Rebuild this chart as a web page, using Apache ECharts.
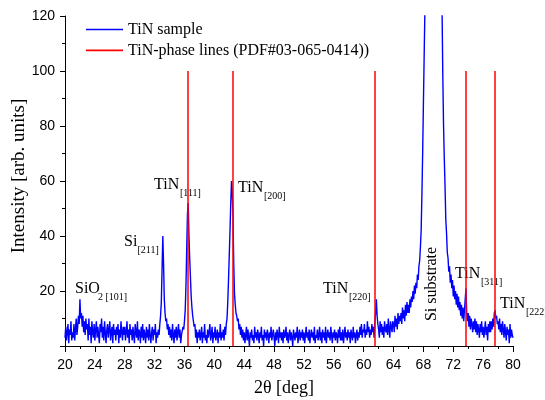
<!DOCTYPE html>
<html>
<head>
<meta charset="utf-8">
<script src="https://cdn.jsdelivr.net/npm/echarts@6.0.0/dist/echarts.min.js"></script>
<style>
html,body{margin:0;padding:0;background:#fff;}
#chart{width:545px;height:400px;}
</style>
</head>
<body>
<div id="chart"></div>
<script>
// Measurement grid of the diffractogram (2θ in degrees)
const angleStart = 20;
const angleStep = 0.1;

// Intensity readings, 0.1° apart (arb. units)
const intensity20to30 = [
  3,7,2,5,8,1,6,4,9,2,
  5,3,8,2,6,10,4,7,11,8,
  17,10,12,7,11,5,9,4,10,6,
  8,2,10,4,7,1,9,5,3,8,
  2,6,9,3,7,4,1,8,5,10,
  3,7,2,9,5,1,6,8,3,6,
  9,2,5,7,1,8,4,6,2,7,
  4,8,1,6,3,9,5,2,7,4,
  7,2,5,9,3,6,1,8,4,6,
  2,7,4,1,8,5,3,9,2,6
];
const intensity30to40 = [
  5,1,7,3,8,2,6,4,1,7,
  3,6,2,8,4,1,5,7,2,6,
  4,8,1,5,3,6,4,8,11,16,
  28,40,30,17,12,9,10,6,8,4,
  7,3,6,2,8,4,1,6,3,7,
  2,5,8,3,6,1,4,4,7,6,
  9,13,22,35,48,52,40,32,25,18,
  14,11,9,7,8,3,6,1,5,3,
  6,2,4,7,1,5,3,8,2,4,
  1,6,3,5,8,2,4,7,1,5
];
const intensity40to50 = [
  3,7,2,4,6,1,5,3,8,2,
  5,3,6,2,7,4,8,10,16,24,
  33,42,52,60,56,47,30,19,15,12,
  11,9,10,6,8,4,7,3,6,2,
  5,1,4,7,2,6,3,0,5,3,
  6,2,4,1,7,3,5,2,6,4,
  1,5,3,7,2,4,0,6,3,5,
  2,6,4,1,5,3,7,2,4,6,
  3,0,5,2,6,4,1,7,3,5,
  2,5,1,6,3,4,7,2,5,1
];
const intensity50to60 = [
  4,6,2,5,3,0,6,4,2,5,
  3,7,1,4,6,2,5,3,6,2,
  5,1,4,7,3,5,2,6,1,4,
  6,3,5,2,7,1,4,3,6,2,
  4,7,2,5,1,6,3,5,2,7,
  1,4,6,3,5,2,7,4,1,5,
  3,6,2,5,4,1,6,3,7,2,
  5,2,6,1,4,7,3,5,2,6,
  3,5,1,6,4,2,7,3,5,1,
  4,6,2,5,3,7,4,8,3,6
];
const intensity60to70 = [
  5,8,3,6,4,9,5,7,3,6,
  4,8,5,7,3,9,12,17,11,8,
  6,3,9,5,8,4,7,3,9,6,
  5,8,4,10,6,3,9,7,5,9,
  8,5,11,7,10,6,12,8,11,9,
  12,8,14,10,13,9,15,11,16,12,
  15,12,17,14,18,16,20,17,22,19,
  23,21,26,24,29,31,36,42,55,70,
  88,105,122,150,190,240,300,380,450,520,
  580,600,560,480,400,330,270,220,190,170
];
const intensity70to80 = [
  160,150,140,132,126,122,98,80,68,58,
  46,41,34,32,27,29,23,26,21,24,
  18,22,17,20,15,19,14,18,13,16,
  11,15,10,14,9,13,17,21,12,9,
  12,7,11,6,10,8,5,9,6,10,
  5,9,4,8,6,3,8,5,9,4,
  7,3,6,9,4,7,2,8,5,9,
  5,9,6,10,7,12,13,10,11,8,
  9,6,10,5,8,4,9,6,3,8,
  5,2,7,4,6,1,8,3,6,4,
  3
];

// TiN reference phase lines (PDF#03-065-0414)
const phaseAngles = [36.5, 42.4, 61.5, 73.7, 77.55];
const phaseHeight = 100;

// Axis ticks
const xTicks = {min: 20, max: 80, interval: 4};
const yTicks = {min: 0, max: 120, interval: 20};

const seriesNames = ['TiN sample', 'TiN-phase lines (PDF#03-065-0414))'];

const intensities = [].concat(intensity20to30, intensity30to40, intensity40to50,
  intensity50to60, intensity60to70, intensity70to80);
const spectrum = intensities.map((v, i) => [+(angleStart + i * angleStep).toFixed(2), v]);

const serif = '"Liberation Serif", "Times New Roman", serif';
const sans = '"Liberation Sans", Arial, sans-serif';

function label(x, y, text, size) {
  return {type: 'text', x: x, y: y, silent: true,
    style: {text: text, x: 0, y: 0, font: size + 'px ' + serif, fill: '#000',
      textAlign: 'left', textVerticalAlign: 'middle'}};
}

const chart = echarts.init(document.getElementById('chart'), null, {renderer: 'canvas'});
const axisCommon = {
  type: 'value',
  nameLocation: 'middle',
  nameMoveOverlap: false,
  axisLine: {show: true, onZero: false, lineStyle: {color: '#000', width: 1}},
  axisTick: {show: true, inside: false, length: 5, lineStyle: {color: '#000', width: 1}},
  minorTick: {show: true, splitNumber: 2, length: 3, lineStyle: {color: '#000', width: 1}},
  splitLine: {show: false},
  minorSplitLine: {show: false},
  axisLabel: {fontFamily: sans, fontSize: 14, color: '#000'}
};

chart.setOption({
  animation: false,
  backgroundColor: '#ffffff',
  grid: {left: 65, right: 32, top: 16, bottom: 54, containLabel: false, outerBoundsMode: 'none'},
  legend: [
    {data: [seriesNames[0]], left: 86, top: 20.5, padding: 0, orient: 'vertical',
      icon: 'rect', itemWidth: 37, itemHeight: 1.6, itemGap: 0,
      textStyle: {fontFamily: serif, fontSize: 16, color: '#000', lineHeight: 18}},
    {data: [seriesNames[1]], left: 86, top: 41.4, padding: 0, orient: 'vertical',
      icon: 'rect', itemWidth: 37, itemHeight: 1.6, itemGap: 0,
      textStyle: {fontFamily: serif, fontSize: 16, color: '#000', lineHeight: 18}}
  ],
  xAxis: Object.assign({}, axisCommon, {
    min: xTicks.min, max: xTicks.max, interval: xTicks.interval,
    name: '2θ [deg]', nameGap: 33,
    nameTextStyle: {fontFamily: serif, fontSize: 18, color: '#000', padding: [0, 10, 0, 0]},
    axisTick: Object.assign({}, axisCommon.axisTick, {length: 6}),
    axisLabel: Object.assign({}, axisCommon.axisLabel, {margin: 12})
  }),
  yAxis: Object.assign({}, axisCommon, {
    min: yTicks.min, max: yTicks.max, interval: yTicks.interval,
    name: 'Intensity [arb. units]', nameGap: 36, nameRotate: 90,
    nameTextStyle: {fontFamily: serif, fontSize: 19, color: '#000', padding: [0, 0, 0, 10]},
    axisLabel: Object.assign({}, axisCommon.axisLabel, {margin: 10,
      formatter: v => (v === 0 ? '' : String(v))})
  }),
  series: [
    {name: seriesNames[0], type: 'line', data: spectrum, showSymbol: false, symbol: 'none',
      sampling: null, clip: true, z: 2,
      lineStyle: {color: '#0000ff', width: 1.4}, itemStyle: {color: '#0000ff'}},
    {name: seriesNames[1], type: 'line', data: [], showSymbol: false, symbol: 'none', z: 3,
      lineStyle: {color: '#ff0000', width: 1.5}, itemStyle: {color: '#ff0000'},
      markLine: {silent: true, symbol: ['none', 'none'], animation: false,
        label: {show: false},
        lineStyle: {color: '#ff0000', width: 1.5, type: 'solid'},
        emphasis: {disabled: true},
        data: phaseAngles.map(a => [{coord: [a, 0]}, {coord: [a, phaseHeight]}])}}
  ],
  graphic: [
    label(75, 289, 'SiO', 16), label(98, 297.5, '2 [101]', 10),
    label(124, 242, 'Si', 16), label(137.5, 250.5, '[211]', 10),
    label(154, 185, 'TiN', 16), label(180, 193.5, '[111]', 10),
    label(238, 187.5, 'TiN', 16), label(264, 196, '[200]', 10),
    label(323, 289, 'TiN', 16), label(349, 297.5, '[220]', 10),
    label(455, 274, 'TiN', 16), label(481, 282.5, '[311]', 10),
    label(500, 304, 'TiN', 16), label(526, 312.5, '[222]', 10),
    {type: 'text', x: 432, y: 284, rotation: Math.PI / 2, silent: true,
      style: {text: 'Si substrate', x: 0, y: 0, font: '16px ' + serif, fill: '#000',
        textAlign: 'center', textVerticalAlign: 'middle'}}
  ]
});
</script>
</body>
</html>
